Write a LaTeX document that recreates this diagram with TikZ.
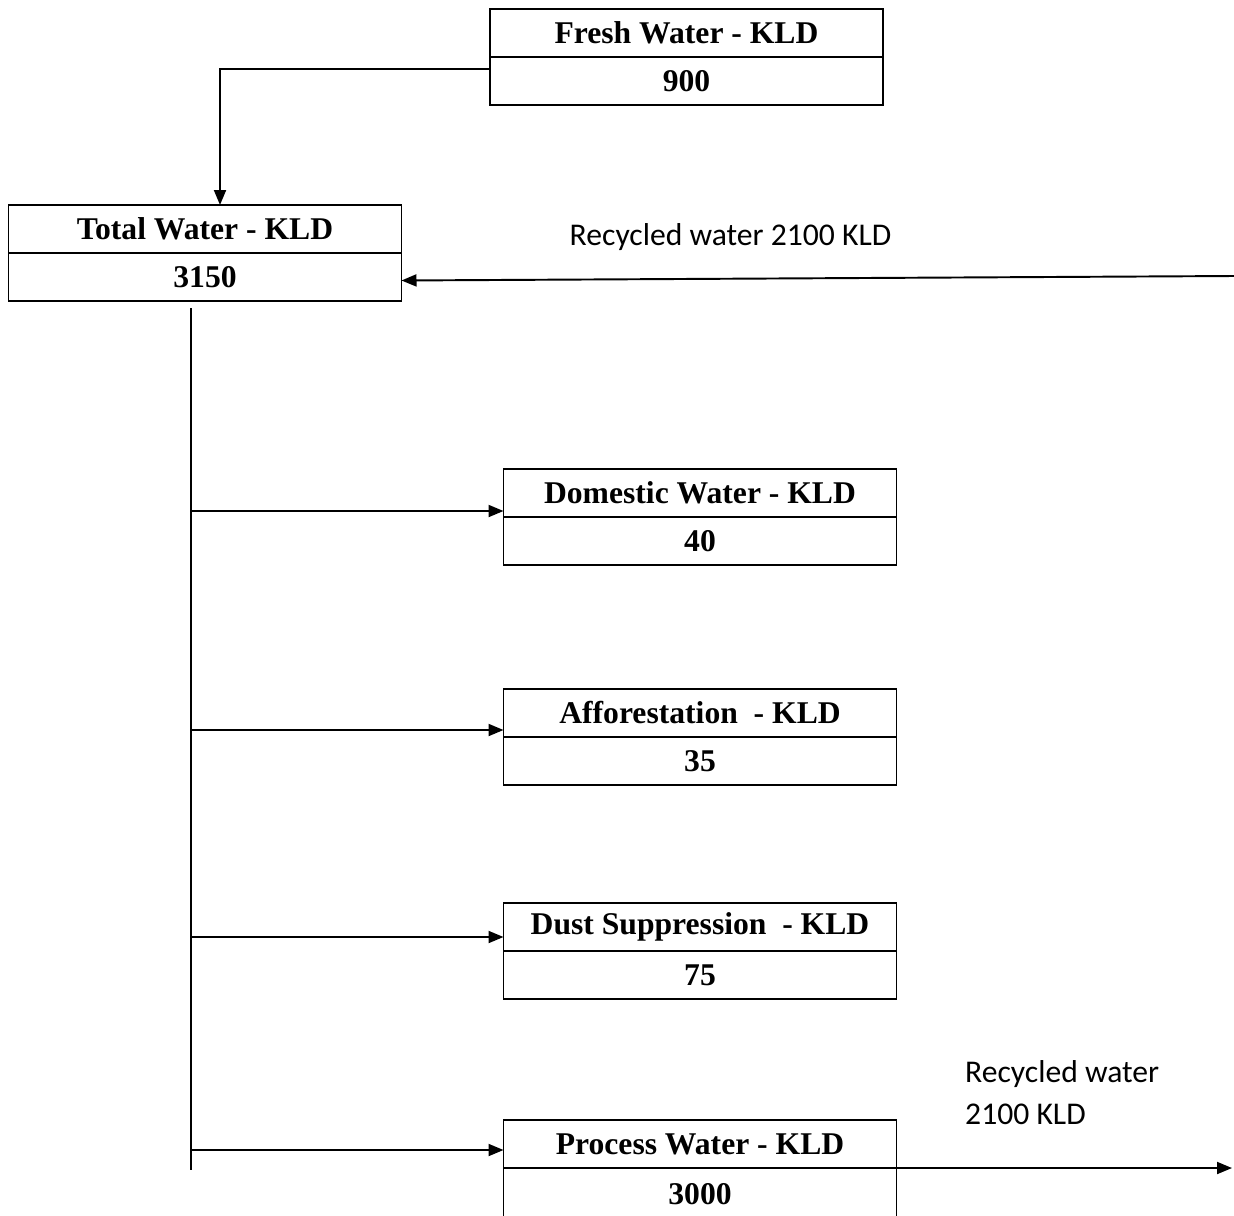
\documentclass[tikz,border=0pt]{standalone}
\usepackage{fontspec}
\setmainfont{Liberation Serif}
\newfontfamily\labelfont{Carlito}
\usetikzlibrary{arrows.meta,positioning}

\tikzset{
  cell/.style={draw,line width=1.1pt,outer sep=0pt,inner sep=0pt,minimum width=7.86cm,minimum height=0.96cm,font=\fontsize{18}{18}\selectfont\bfseries},
  flow/.style={-{Triangle[length=3mm,width=2.4mm]},line width=1.1pt},
  lbl/.style={font=\labelfont\fontsize{18}{24}\selectfont,align=left}
}

\begin{document}
\begin{tikzpicture}
\clip (0,0) rectangle (24.68,-24.3);

\node[cell] (fresh) at (13.73,-0.66) {Fresh Water - KLD};
\node[cell,below=0pt of fresh] (freshv) {900};
\node[cell] (total) at (4.10,-4.58) {Total Water - KLD};
\node[cell,below=0pt of total] (totalv) {3150};
\node[cell] (domestic) at (14.00,-9.86) {Domestic Water - KLD};
\node[cell,below=0pt of domestic] (domesticv) {40};
\node[cell] (afforest) at (14.00,-14.26) {Afforestation\ \ - KLD};
\node[cell,below=0pt of afforest] (afforestv) {35};
\node[cell] (dust) at (14.00,-18.54) {Dust Suppression\ \ - KLD};
\node[cell,below=0pt of dust] (dustv) {75};
\node[cell] (process) at (14.00,-22.88) {Process Water - KLD};
\node[cell,below=0pt of process,minimum height=1.06cm] (processv) {3000};

\coordinate (recin) at (24.68,-5.52);
\coordinate (recout) at (24.64,-23.36);
\coordinate (trunktop) at (3.82,-6.16);
\coordinate (trunkbot) at (3.82,-23.4);

\draw[flow] ([yshift=0.24cm]freshv.west) -| ([xshift=0.3cm]total.north);
\draw[flow] (recin) -- ([yshift=-0.07cm]totalv.east);
\draw[line width=0.8pt] (trunktop) -- (trunkbot);
\foreach \b/\d in {domestic/0.12,afforest/0.14,dust/0.28,process/0.36}{
  \coordinate (\b-in) at ([yshift=\d cm]\b.south west);
  \draw[flow] (trunktop |- \b-in) -- (\b-in);
}
\draw[flow] (process.south east) -- (recout);

\node[lbl] (recinlbl) at (14.61,-4.74) {Recycled water 2100 KLD};
\node[lbl,anchor=west] (recoutlbl) at (19.18,-21.86) {Recycled water\\2100 KLD};
\end{tikzpicture}
\end{document}
